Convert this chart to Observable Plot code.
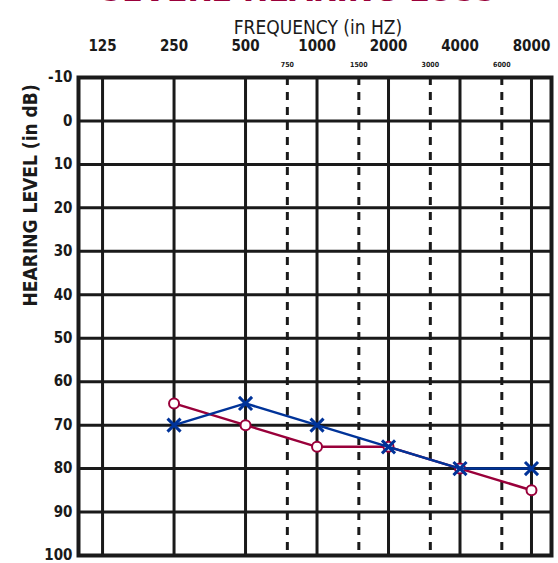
<!DOCTYPE html>
<html>
<head>
<meta charset="utf-8">
<script src="https://cdn.jsdelivr.net/npm/d3@7"></script>
<script src="https://cdn.jsdelivr.net/npm/@observablehq/plot@0.6"></script>
<style>
  html, body { margin: 0; padding: 0; background: white; overflow: hidden; }
  #chart svg { display: block; }
</style>
</head>
<body>
<div id="chart"></div>
<script>
// ---- data ----
const title = "SEVERE HEARING LOSS";
const xLabel = "FREQUENCY (in HZ)";
const yLabel = "HEARING LEVEL (in dB)";
const majorFreqs = [125, 250, 500, 1000, 2000, 4000, 8000];
const minorFreqs = [750, 1500, 3000, 6000];
const levelTicks = [-10, 0, 10, 20, 30, 40, 50, 60, 70, 80, 90, 100];
const testFreqs = [250, 500, 1000, 2000, 4000, 8000];
const rightEar = [65, 70, 75, 75, 80, 85];   // red circles
const leftEar  = [70, 65, 70, 75, 80, 80];   // blue crosses

const rows = testFreqs.map((f, i) => ({f, r: rightEar[i], l: leftEar[i]}));

const ink = "#1a1a1a";
const red = "#99003a";
const blue = "#003399";

const chart = Plot.plot({
  width: 558,
  height: 563,
  marginLeft: 78,
  marginRight: 7,
  marginTop: 77,
  marginBottom: 8,
  x: {type: "log", base: 2, domain: [99, 9713], axis: null},
  y: {domain: [-10, 100], reverse: true, axis: null},
  style: {fontFamily: "'DejaVu Sans Condensed', 'DejaVu Sans', sans-serif", background: "white", color: ink},
  marks: [
    Plot.ruleY(levelTicks, {stroke: ink, strokeWidth: 3}),
    Plot.ruleX(majorFreqs, {stroke: ink, strokeWidth: 3}),
    Plot.ruleX(minorFreqs, {stroke: ink, strokeWidth: 3, strokeDasharray: "8,7"}),
    Plot.frame({stroke: ink, strokeWidth: 4}),
    Plot.axisX(majorFreqs, {anchor: "top", tickSize: 0, tickPadding: 27, fontSize: 15, fontWeight: "bold", tickFormat: d => String(d), label: null}),
    Plot.axisX(minorFreqs, {anchor: "top", tickSize: 0, tickPadding: 11, fontSize: 7, fontWeight: "bold", tickFormat: d => String(d), label: null}),
    Plot.axisY(levelTicks, {anchor: "left", tickSize: 0, tickPadding: 6, fontSize: 15, fontWeight: "bold", tickFormat: d => String(d), label: null}),
    Plot.line(rows, {x: "f", y: "r", stroke: red, strokeWidth: 2.5}),
    Plot.dot(rows, {x: "f", y: "r", r: 5, stroke: red, fill: "white", strokeWidth: 2}),
    Plot.line(rows, {x: "f", y: "l", stroke: blue, strokeWidth: 2.5}),
    Plot.dot(rows, {x: "f", y: "l", symbol: "times", r: 6, stroke: blue, strokeWidth: 3}),
    Plot.text([xLabel], {text: d => d, frameAnchor: "top", dy: -57, dx: 3, fontSize: 19, fill: ink}),
    Plot.text([yLabel], {text: d => d, frameAnchor: "left", rotate: -90, dx: -48, dy: -10, fontSize: 19, fontWeight: "bold", fill: ink}),
    Plot.text([title], {text: d => d, frameAnchor: "top", lineAnchor: "bottom", dy: -77, dx: -17, fontSize: 34, fontWeight: "bold", fill: red})
  ]
});
document.getElementById("chart").append(chart);
</script>
</body>
</html>
